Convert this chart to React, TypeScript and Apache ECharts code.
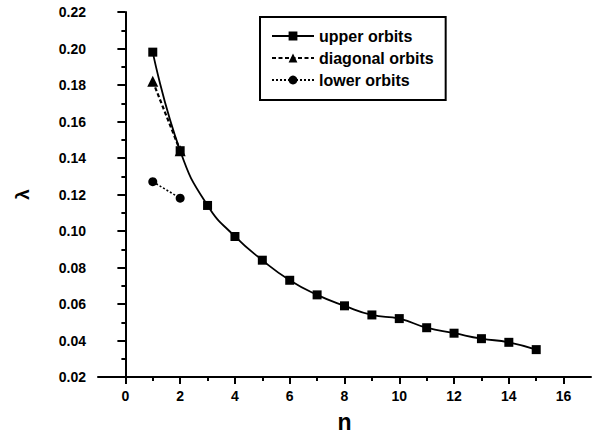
import React, { useEffect, useRef } from "react";
import * as echarts from "echarts";

// Orbit index n
const nUpper = [1, 2, 3, 4, 5, 6, 7, 8, 9, 10, 11, 12, 13, 14, 15];
const lambdaUpper = [0.198, 0.144, 0.114, 0.097, 0.084, 0.073, 0.065, 0.059, 0.054, 0.052, 0.047, 0.044, 0.041, 0.039, 0.035];

const nDiagonal = [1, 2];
const lambdaDiagonal = [0.182, 0.144];

const nLower = [1, 2];
const lambdaLower = [0.127, 0.118];

const xMajorTicks = [0, 2, 4, 6, 8, 10, 12, 14, 16];
const xMinorTicks = [1, 3, 5, 7, 9, 11, 13, 15];

const seriesNames = ["upper orbits", "diagonal orbits", "lower orbits"];

const FONT = '"Liberation Sans", Arial, sans-serif';

const pair = (xs: number[], ys: number[]) => xs.map((x, i) => [x, ys[i]]);

export default function App() {
  const ref = useRef<HTMLDivElement>(null);

  useEffect(() => {
    if (!ref.current) return;
    const chart = echarts.init(ref.current, undefined, { renderer: "svg" });

    const axisLine = { show: true, lineStyle: { color: "#000", width: 2 } };
    const labelStyle = { color: "#000", fontWeight: "bold" as const, fontSize: 14, fontFamily: FONT };

    chart.setOption({
      animation: false,
      backgroundColor: "#fff",
      grid: { left: 98, right: 5, top: 12, bottom: 55, containLabel: false },
      legend: {
        left: 260,
        top: 17,
        orient: "vertical",
        data: seriesNames,
        itemWidth: 42,
        itemHeight: 11,
        itemGap: 6,
        borderColor: "#000",
        borderWidth: 2,
        padding: [11, 12, 12, 11],
        textStyle: { color: "#000", fontWeight: "bold", fontSize: 16, fontFamily: FONT },
        selectedMode: false,
      },
      xAxis: [
        {
          type: "value",
          min: -1,
          max: 17,
          position: "bottom",
          name: "n",
          nameLocation: "middle",
          nameGap: 33,
          nameTextStyle: { color: "#000", fontWeight: "bold", fontSize: 23, fontFamily: FONT },
          axisLine,
          axisTick: { show: true, length: 7, lineStyle: { color: "#000", width: 2 }, customValues: xMajorTicks },
          axisLabel: { ...labelStyle, margin: 12, customValues: xMajorTicks },
          splitLine: { show: false },
        },
        {
          type: "value",
          min: -1,
          max: 17,
          position: "bottom",
          offset: 0,
          axisLine: { show: false },
          axisTick: { show: true, length: 4, lineStyle: { color: "#000", width: 2 }, customValues: xMinorTicks },
          axisLabel: { show: false },
          splitLine: { show: false },
        },
      ],
      yAxis: {
        type: "value",
        min: 0.02,
        max: 0.22,
        interval: 0.02,
        name: "λ",
        nameLocation: "middle",
        nameRotate: 90,
        nameGap: 66,
        nameTextStyle: { color: "#000", fontWeight: "bold", fontSize: 19, fontFamily: FONT },
        axisLine,
        axisTick: { show: true, length: 8, lineStyle: { color: "#000", width: 2 } },
        minorTick: { show: true, splitNumber: 2, length: 4, lineStyle: { color: "#000", width: 2 } },
        axisLabel: { ...labelStyle, margin: 12, formatter: (v: number) => v.toFixed(2) },
        splitLine: { show: false },
        minorSplitLine: { show: false },
      },
      series: [
        {
          name: seriesNames[0],
          type: "line",
          data: pair(nUpper, lambdaUpper),
          smooth: 0.5,
          symbol: "rect",
          symbolSize: 9,
          itemStyle: { color: "#000" },
          lineStyle: { color: "#000", width: 1.8, type: "solid" },
          z: 2,
        },
        {
          name: seriesNames[1],
          type: "line",
          data: pair(nDiagonal, lambdaDiagonal),
          symbol: "triangle",
          symbolSize: 11,
          itemStyle: { color: "#000" },
          lineStyle: { color: "#000", width: 2.2, type: [4, 2.5] },
          z: 3,
        },
        {
          name: seriesNames[2],
          type: "line",
          data: pair(nLower, lambdaLower),
          symbol: "circle",
          symbolSize: 9,
          itemStyle: { color: "#000" },
          lineStyle: { color: "#000", width: 1.6, type: [2, 2] },
          z: 3,
        },
      ],
    });

    return () => chart.dispose();
  }, []);

  return (
    <div
      ref={ref}
      style={{ position: "fixed", left: 0, top: 0, width: 596, height: 438, background: "#fff" }}
    />
  );
}
